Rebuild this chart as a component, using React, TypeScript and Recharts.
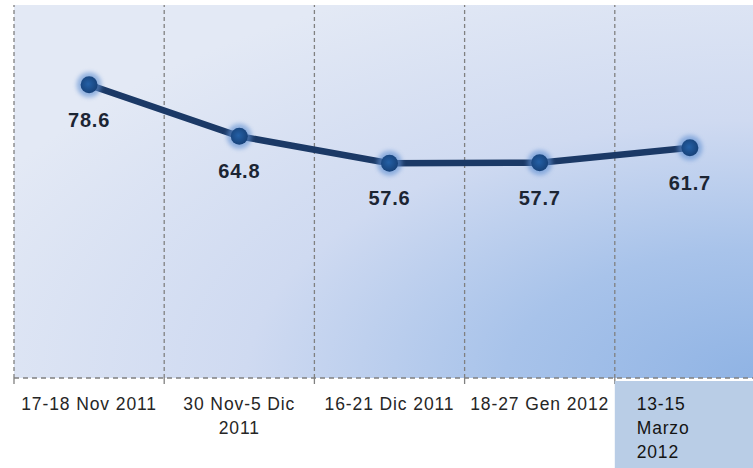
import React from 'react';
import { LineChart, Line, XAxis, YAxis, CartesianGrid, LabelList, ReferenceLine } from 'recharts';

// survey waves and the value measured at each
const periods = ['17-18 Nov 2011', '30 Nov-5 Dic 2011', '16-21 Dic 2011', '18-27 Gen 2012', '13-15 Marzo 2012'];
const periodLines = [['17-18 Nov 2011'], ['30 Nov-5 Dic', '2011'], ['16-21 Dic 2011'], ['18-27 Gen 2012'], ['13-15', 'Marzo', '2012']];
const values = [78.6, 64.8, 57.6, 57.7, 61.7];
const slotPos = [0.5, 1.5, 2.5, 3.5, 4.5];
const boundaryTicks = [0, 1, 2, 3, 4, 5];

const data = periods.map((p, i) => ({ period: p, pos: slotPos[i], value: values[i] }));

const CHART_W = 765;
const CHART_H = 468;
const LEFT = 14;
const BAND = (CHART_W - LEFT) / 5;

const font = '"Liberation Sans", Arial, sans-serif';
const gridGrey = '#808080';

const NoTick = () => <g />;

const PeriodTick = (props: any) => {
    const { x, y, payload, index } = props;
    const lines = periodLines[index] || [String(payload.value)];
    const axisY = y;
    if (index === periodLines.length - 1) {
        // last period sits in a shaded text box, left aligned
        return (
            <g>
                <rect x={x - BAND / 2} y={axisY} width={BAND} height={CHART_H - axisY} fill="#b9cde6" />
                {lines.map((l, i) => (
                    <text key={i} x={x - BAND / 2 + 22} y={axisY + 29 + i * 24} fontSize={17.5} fontFamily={font} fill="#141414" letterSpacing={0.8}>
                        {l}
                    </text>
                ))}
            </g>
        );
    }
    return (
        <g>
            {lines.map((l, i) => (
                <text key={i} x={x} y={axisY + 29 + i * 24} textAnchor="middle" fontSize={17.5} fontFamily={font} fill="#262626" letterSpacing={0.9}>
                    {l}
                </text>
            ))}
        </g>
    );
};

const GlowDot = (props: any) => {
    const { cx, cy, index } = props;
    return (
        <g key={`dot-${index}`}>
            <circle cx={cx} cy={cy} r={12.5} fill="#5f8fd2" opacity={0.6} filter="url(#glow)" />
            <circle cx={cx} cy={cy} r={8.5} fill="url(#dotFill)" />
        </g>
    );
};

const ValueLabel = (props: any) => {
    const { x, y, value } = props;
    return (
        <text x={x} y={y + 42} textAnchor="middle" fontSize={20} fontWeight="bold" fontFamily={font} fill="#1c2533" letterSpacing={0.8}>
            {Number(value).toFixed(1)}
        </text>
    );
};

export default function App() {
    return (
        <div style={{ position: 'absolute', left: 0, top: 0, width: 753, height: CHART_H, overflow: 'hidden', background: '#fff' }}>
            <LineChart width={CHART_W} height={CHART_H} data={data} margin={{ top: 5, right: 0, bottom: 0, left: LEFT }}>
                <defs>
                    <radialGradient id="bg" cx="1" cy="1" r="1.15" fx="1" fy="1">
                        <stop offset="0" stopColor="#8fb3e4" />
                        <stop offset="0.3" stopColor="#a8c3ea" />
                        <stop offset="0.6" stopColor="#cfdaf1" />
                        <stop offset="1" stopColor="#e3e9f5" />
                    </radialGradient>
                    <radialGradient id="dotFill" cx="0.45" cy="0.45" r="0.6">
                        <stop offset="0" stopColor="#2460a6" />
                        <stop offset="1" stopColor="#163f75" />
                    </radialGradient>
                    <filter id="glow" x="-50%" y="-50%" width="200%" height="200%">
                        <feGaussianBlur stdDeviation="2" />
                    </filter>
                </defs>
                <CartesianGrid xAxisId="grid" horizontal={false} vertical={false} fill="url(#bg)" />
                <XAxis
                    xAxisId="grid"
                    type="number"
                    dataKey="pos"
                    domain={[0, 5]}
                    ticks={boundaryTicks}
                    tick={<NoTick />}
                    tickSize={6}
                    tickLine={{ stroke: gridGrey, strokeWidth: 1.3 }}
                    axisLine={{ stroke: gridGrey, strokeWidth: 1.3, strokeDasharray: '5 4' }}
                    height={1}
                />
                <XAxis
                    xAxisId="lab"
                    type="number"
                    dataKey="pos"
                    domain={[0, 5]}
                    ticks={slotPos}
                    tick={<PeriodTick />}
                    tickLine={false}
                    axisLine={false}
                    tickSize={0}
                    height={89}
                    interval={0}
                />
                <YAxis hide domain={[0, 100]} />
                {boundaryTicks.map((b) => (
                    <ReferenceLine key={b} xAxisId="grid" x={b} stroke={gridGrey} strokeWidth={1.3} strokeDasharray="4 3" />
                ))}
                <Line
                    xAxisId="lab"
                    type="linear"
                    dataKey="value"
                    stroke="#1b3966"
                    strokeWidth={6.5}
                    dot={<GlowDot />}
                    activeDot={false}
                    isAnimationActive={false}
                >
                    <LabelList dataKey="value" content={<ValueLabel />} />
                </Line>
            </LineChart>
        </div>
    );
}
